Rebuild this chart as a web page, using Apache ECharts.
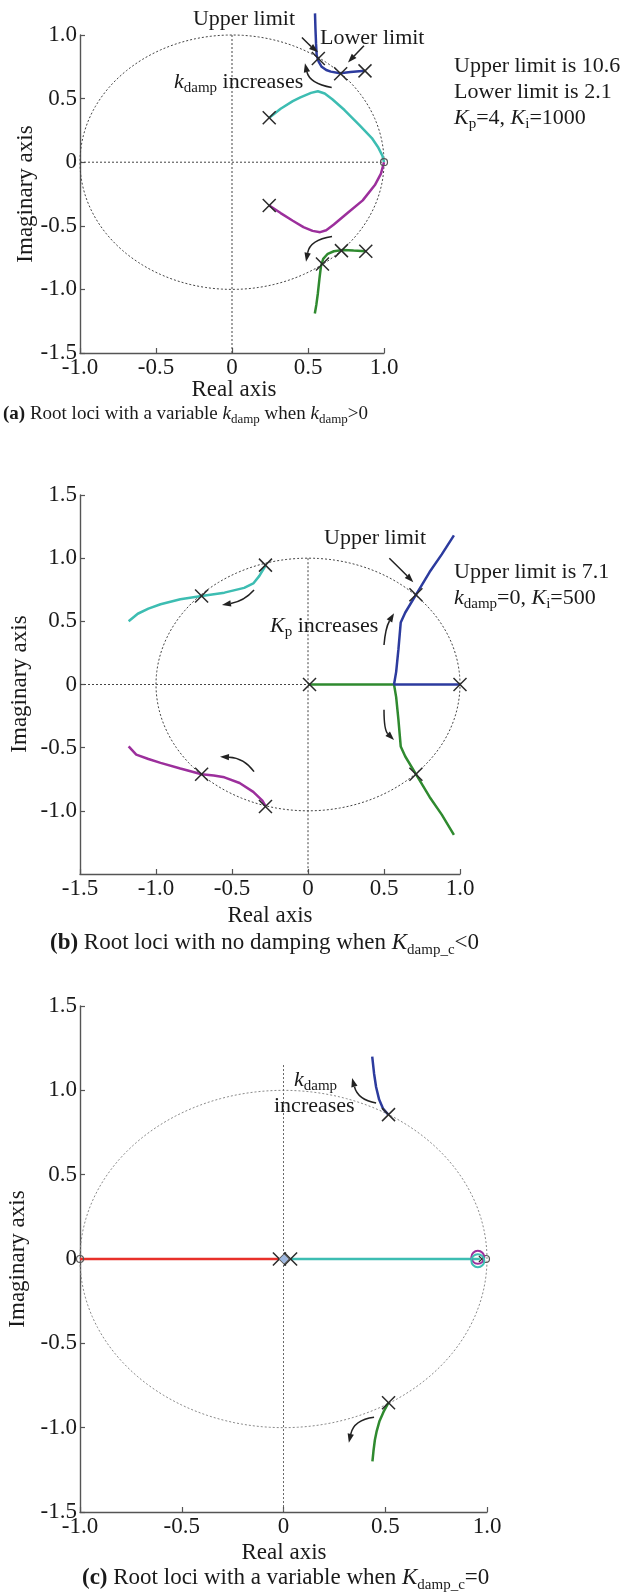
<!DOCTYPE html>
<html><head><meta charset="utf-8">
<script src="https://cdn.jsdelivr.net/npm/echarts@6/dist/echarts.min.js"></script>
<style>html,body{margin:0;padding:0;background:#fff}#c{width:627px;height:1593px}</style>
</head><body><div id="c"></div><script>
// ---------- DATA ----------
const tickFmt = v => Math.abs(v) < 1e-9 ? '0' : v.toFixed(1);
// Panel (a)
const aBlue    = [[0.546,1.17],[0.549,1.05],[0.553,0.93],[0.557,0.84],[0.57,0.79],[0.59,0.75],[0.62,0.725],[0.65,0.712],[0.71,0.70],[0.78,0.71],[0.875,0.718]];
const aCyan    = [[0.245,0.35],[0.32,0.42],[0.40,0.48],[0.45,0.51],[0.52,0.545],[0.565,0.558],[0.61,0.54],[0.66,0.495],[0.74,0.41],[0.84,0.29],[0.92,0.19],[0.96,0.12],[0.99,0.05],[1.0,0]];
const aMagenta = [[0.245,-0.34],[0.32,-0.40],[0.40,-0.46],[0.47,-0.51],[0.53,-0.54],[0.58,-0.55],[0.62,-0.535],[0.67,-0.49],[0.76,-0.40],[0.86,-0.30],[0.94,-0.18],[0.98,-0.09],[1.0,0]];
const aGreen   = [[0.88,-0.70],[0.80,-0.695],[0.73,-0.69],[0.67,-0.70],[0.63,-0.72],[0.60,-0.76],[0.585,-0.82],[0.575,-0.92],[0.565,-1.03],[0.555,-1.12],[0.545,-1.19]];
const aCross   = [[0.568,0.815],[0.715,0.695],[0.875,0.718],[0.245,0.35],[0.245,-0.34],[0.72,-0.695],[0.88,-0.70],[0.595,-0.80]];
const aRing    = [[1.0,0]];
const aHLine   = [[-1,0],[1,0]];
const aVLine   = [[0,1],[0,-1.5]];
// arrows: [x0,y0, cx,cy, x1,y1]
const aArrows  = [[0.46,0.98, 0.51,0.92, 0.566,0.865],[0.868,0.916, 0.815,0.85, 0.763,0.784],
                  [0.656,0.587, 0.51,0.62, 0.48,0.778],[0.658,-0.584, 0.513,-0.61, 0.487,-0.782]];
// Panel (b)
const bCyan    = [[-1.18,0.50],[-1.12,0.56],[-1.05,0.60],[-0.97,0.635],[-0.84,0.675],[-0.70,0.70],[-0.55,0.727],[-0.42,0.765],[-0.36,0.80],[-0.32,0.86],[-0.28,0.94]];
const bMagenta = [[-1.18,-0.49],[-1.13,-0.555],[-1.05,-0.59],[-0.97,-0.62],[-0.84,-0.665],[-0.70,-0.71],[-0.62,-0.72],[-0.55,-0.735],[-0.45,-0.78],[-0.36,-0.85],[-0.30,-0.92],[-0.28,-0.96]];
const bGreen   = [[0.0,0],[0.566,0],[0.58,-0.10],[0.595,-0.28],[0.61,-0.49],[0.64,-0.57],[0.71,-0.71],[0.80,-0.89],[0.88,-1.03],[0.96,-1.19]];
const bBlue    = [[1.0,0],[0.566,0],[0.58,0.10],[0.595,0.28],[0.61,0.49],[0.64,0.57],[0.71,0.71],[0.80,0.89],[0.88,1.03],[0.96,1.18]];
const bCross   = [[-0.70,0.70],[-0.28,0.945],[-0.70,-0.71],[-0.28,-0.965],[0.01,0],[1.0,0],[0.71,0.71],[0.71,-0.71]];
const bHLine   = [[-1.5,0],[1,0]];
const bVLine   = [[0,1],[0,-1.5]];
const bArrows  = [[0.535,1.0, 0.62,0.9, 0.693,0.81],[0.50,0.313, 0.51,0.45, 0.566,0.564],
                  [-0.355,0.748, -0.42,0.66, -0.566,0.63],[-0.355,-0.69, -0.42,-0.58, -0.579,-0.572],
                  [0.50,-0.20, 0.50,-0.36, 0.566,-0.44]];
// Panel (c)
const cBlue    = [[0.436,1.2],[0.445,1.10],[0.455,1.02],[0.47,0.945],[0.49,0.89],[0.515,0.856]];
const cGreen   = [[0.516,-0.852],[0.492,-0.905],[0.472,-0.96],[0.458,-1.02],[0.449,-1.073],[0.442,-1.14],[0.437,-1.2]];
const cRed     = [[-1.0,0],[-0.02,0]];
const cCyan    = [[0.035,0],[0.965,0]];
const cCross   = [[0.516,0.856],[0.516,-0.852],[-0.02,0],[0.035,0]];
const cSmallX  = [[0.975,0]];
const cRing    = [[-1.0,0],[0.995,0]];
const cMagRing = [[0.955,0.01]];
const cCyanRing= [[0.955,-0.01]];
const cDiamond = [[0.003,0]];
const cVLine   = [[0,1.15],[0,-1.5]];
const cArrows  = [[0.455,0.925, 0.366,0.944, 0.337,1.073],[0.445,-0.938, 0.346,-0.953, 0.321,-1.09]];
const unit     = [[0,0,1]];

// ---------- STYLE ----------
const F = 'Liberation Serif, Times New Roman, serif';
const INK = '#1a1a1a';
const C = {blue:'#2c3b9e', cyan:'#3dbdb2', mag:'#9c2f9c', green:'#2f8a2f', red:'#e8302a'};
const AX = 23, AN = 22;

function lineS(data, g, color, w, dashed){
  return {type:'line', xAxisIndex:g, yAxisIndex:g, data, symbol:'none', clip:false, silent:true,
    z: dashed ? 1 : 3,
    lineStyle:{color, width:w, type: dashed ? [2,2] : 'solid'}};
}
function crossS(data, g, size, w){
  return {type:'custom', xAxisIndex:g, yAxisIndex:g, data, clip:false, z:6, silent:true,
    renderItem(p, api){ const c = api.coord([api.value(0), api.value(1)]); const s = size/2;
      return {type:'group', children:[
        {type:'line', shape:{x1:c[0]-s,y1:c[1]-s,x2:c[0]+s,y2:c[1]+s}, style:{stroke:'#2a2a2a', lineWidth:w}},
        {type:'line', shape:{x1:c[0]-s,y1:c[1]+s,x2:c[0]+s,y2:c[1]-s}, style:{stroke:'#2a2a2a', lineWidth:w}}]};}};
}
function ringS(data, g, r, color, w){
  return {type:'custom', xAxisIndex:g, yAxisIndex:g, data, clip:false, z:7, silent:true,
    renderItem(p, api){ const c = api.coord([api.value(0), api.value(1)]);
      return {type:'circle', shape:{cx:c[0], cy:c[1], r}, style:{fill:'none', stroke:color, lineWidth:w}};}};
}
function diamondS(data, g, r){
  return {type:'custom', xAxisIndex:g, yAxisIndex:g, data, clip:false, z:7, silent:true,
    renderItem(p, api){ const c = api.coord([api.value(0), api.value(1)]);
      return {type:'polygon', shape:{points:[[c[0],c[1]-r],[c[0]+r,c[1]],[c[0],c[1]+r],[c[0]-r,c[1]]]}, style:{fill:'#9fb8e0', stroke:'#666', lineWidth:1}};}};
}
function circleS(g, color, dash, w){
  return {type:'custom', xAxisIndex:g, yAxisIndex:g, data:unit, clip:false, z:1, silent:true,
    renderItem(p, api){ const cx = api.value(0), cy = api.value(1), r = api.value(2); const pts = [];
      for (let k = 0; k <= 180; k++){ const t = k/180*2*Math.PI; pts.push(api.coord([cx + r*Math.cos(t), cy + r*Math.sin(t)])); }
      return {type:'polyline', shape:{points:pts}, style:{fill:'none', stroke:color, lineWidth:w, lineDash:dash}};}};
}
function arrowS(data, g){
  return {type:'custom', xAxisIndex:g, yAxisIndex:g, data, clip:false, z:5, silent:true,
    renderItem(p, api){
      const a = api.coord([api.value(0), api.value(1)]), c = api.coord([api.value(2), api.value(3)]), b = api.coord([api.value(4), api.value(5)]);
      let dx = b[0]-c[0], dy = b[1]-c[1]; const L = Math.hypot(dx,dy)||1; dx/=L; dy/=L;
      const hl = 9, hw = 3.2; const bx = b[0]-dx*hl, by = b[1]-dy*hl;
      return {type:'group', children:[
        {type:'bezierCurve', shape:{x1:a[0],y1:a[1],x2:bx,y2:by,cpx1:c[0],cpy1:c[1]}, style:{fill:'none', stroke:'#222', lineWidth:1.5}},
        {type:'polygon', shape:{points:[[b[0],b[1]],[bx-dy*hw,by+dx*hw],[bx+dy*hw,by-dx*hw]]}, style:{fill:'#222'}}]};}};
}

// rich text helper: parts = [[text, kind]], kind: n / i / s / b
function T(x, y, parts, size, align, rot){
  const lh = Math.round(size*1.25);
  const rich = {
    n:{fontFamily:F, fontSize:size, fill:INK, lineHeight:lh},
    i:{fontFamily:F, fontSize:size, fontStyle:'italic', fill:INK, lineHeight:lh},
    b:{fontFamily:F, fontSize:size, fontWeight:'bold', fill:INK, lineHeight:lh},
    s:{fontFamily:F, fontSize:Math.round(size*0.66), fill:INK, lineHeight:Math.round(size*0.55), verticalAlign:'bottom'}
  };
  return {type:'text', x, y, rotation: rot||0, silent:true, z:10,
    style:{text: parts.map(q => '{' + q[1] + '|' + q[0] + '}').join(''), rich,
      align: align||'left', verticalAlign:'middle', fontFamily:F, fontSize:size, fill:INK}};
}

const axisCommon = {
  axisLine:{show:true, onZero:false, lineStyle:{color:'#555', width:1.4}},
  axisTick:{show:true, inside:true, length:5, lineStyle:{color:'#555', width:1.2}},
  splitLine:{show:false},
  axisLabel:{fontFamily:F, fontSize:AX, color:INK, formatter:tickFmt}
};
function xA(g, min, max){ return Object.assign({}, axisCommon, {type:'value', gridIndex:g, min, max, interval:0.5,
  axisLabel:Object.assign({}, axisCommon.axisLabel, {margin:3})}); }
function yA(g, min, max, hideMin){ return Object.assign({}, axisCommon, {type:'value', gridIndex:g, min, max, interval:0.5,
  axisLabel:Object.assign({}, axisCommon.axisLabel, {margin:3, showMinLabel: !hideMin})}); }

const chart = echarts.init(document.getElementById('c'), null, {renderer:'canvas'});
chart.setOption({
  animation:false,
  backgroundColor:'#fff',
  grid:[{left:80, top:35, width:304, height:318},
        {left:80, top:495, width:380, height:379},
        {left:80, top:1006, width:407, height:506}],
  xAxis:[xA(0,-1,1), xA(1,-1.5,1), xA(2,-1,1)],
  yAxis:[yA(0,-1.5,1), yA(1,-1.5,1.5,true), yA(2,-1.5,1.5)],
  series:[
    // (a)
    circleS(0, '#444', [2,2], 1),
    lineS(aHLine, 0, '#444', 1, true), lineS(aVLine, 0, '#444', 1, true),
    lineS(aCyan, 0, C.cyan, 2.5), lineS(aMagenta, 0, C.mag, 2.5),
    lineS(aBlue, 0, C.blue, 2.5), lineS(aGreen, 0, C.green, 2.5),
    crossS(aCross, 0, 13, 1.5), ringS(aRing, 0, 3.5, '#555', 1.2),
    arrowS(aArrows, 0),
    // (b)
    circleS(1, '#444', [2,2], 1),
    lineS(bHLine, 1, '#444', 1, true), lineS(bVLine, 1, '#444', 1, true),
    lineS(bCyan, 1, C.cyan, 2.5), lineS(bMagenta, 1, C.mag, 2.5),
    lineS(bGreen, 1, C.green, 2.5), lineS(bBlue, 1, C.blue, 2.5),
    crossS(bCross, 1, 13, 1.5),
    arrowS(bArrows, 1),
    // (c)
    circleS(2, '#8a8a8a', [2,2], 1),
    lineS(cVLine, 2, '#666', 1, true),
    lineS(cRed, 2, C.red, 2.5), lineS(cCyan, 2, C.cyan, 2.5),
    lineS(cBlue, 2, C.blue, 2.5), lineS(cGreen, 2, C.green, 2.5),
    crossS(cCross, 2, 13, 1.5), crossS(cSmallX, 2, 6, 1.2),
    ringS(cRing, 2, 3.5, '#555', 1.2), ringS(cMagRing, 2, 6.5, C.mag, 2), ringS(cCyanRing, 2, 6.5, C.cyan, 2),
    diamondS(cDiamond, 2, 5),
    arrowS(cArrows, 2)
  ],
  graphic:[
    // (a)
    T(244, 19, [['Upper limit','n']], AN, 'center'),
    T(320, 38, [['Lower limit','n']], AN),
    T(174, 82, [['k','i'],['damp','s'],[' increases','n']], AN),
    T(454, 66, [['Upper limit is 10.6','n']], AN),
    T(454, 92, [['Lower limit is 2.1','n']], AN),
    T(454, 118, [['K','i'],['p','s'],['=4, ','n'],['K','i'],['i','s'],['=1000','n']], AN),
    T(234, 390, [['Real axis','n']], AX, 'center'),
    T(26, 194, [['Imaginary axis','n']], AX, 'center', Math.PI/2),
    T(3, 414, [['(a)','b'],[' Root loci with a variable ','n'],['k','i'],['damp','s'],[' when ','n'],['k','i'],['damp','s'],['>0','n']], 19),
    // (b)
    T(324, 538, [['Upper limit','n']], AN),
    T(454, 572, [['Upper limit is 7.1','n']], AN),
    T(454, 598, [['k','i'],['damp','s'],['=0, ','n'],['K','i'],['i','s'],['=500','n']], AN),
    T(270, 626, [['K','i'],['p','s'],[' increases','n']], AN),
    T(270, 916, [['Real axis','n']], AX, 'center'),
    T(20, 684, [['Imaginary axis','n']], AX, 'center', Math.PI/2),
    T(50, 943, [['(b)','b'],[' Root loci with no damping when ','n'],['K','i'],['damp_c','s'],['<0','n']], 23),
    // (c)
    T(294, 1080, [['k','i'],['damp','s']], AN),
    T(274, 1106, [['increases','n']], AN),
    T(284, 1553, [['Real axis','n']], AX, 'center'),
    T(18, 1259, [['Imaginary axis','n']], AX, 'center', Math.PI/2),
    T(82, 1578, [['(c)','b'],[' Root loci with a variable when ','n'],['K','i'],['damp_c','s'],['=0','n']], 23)
  ]
});
</script></body></html>
